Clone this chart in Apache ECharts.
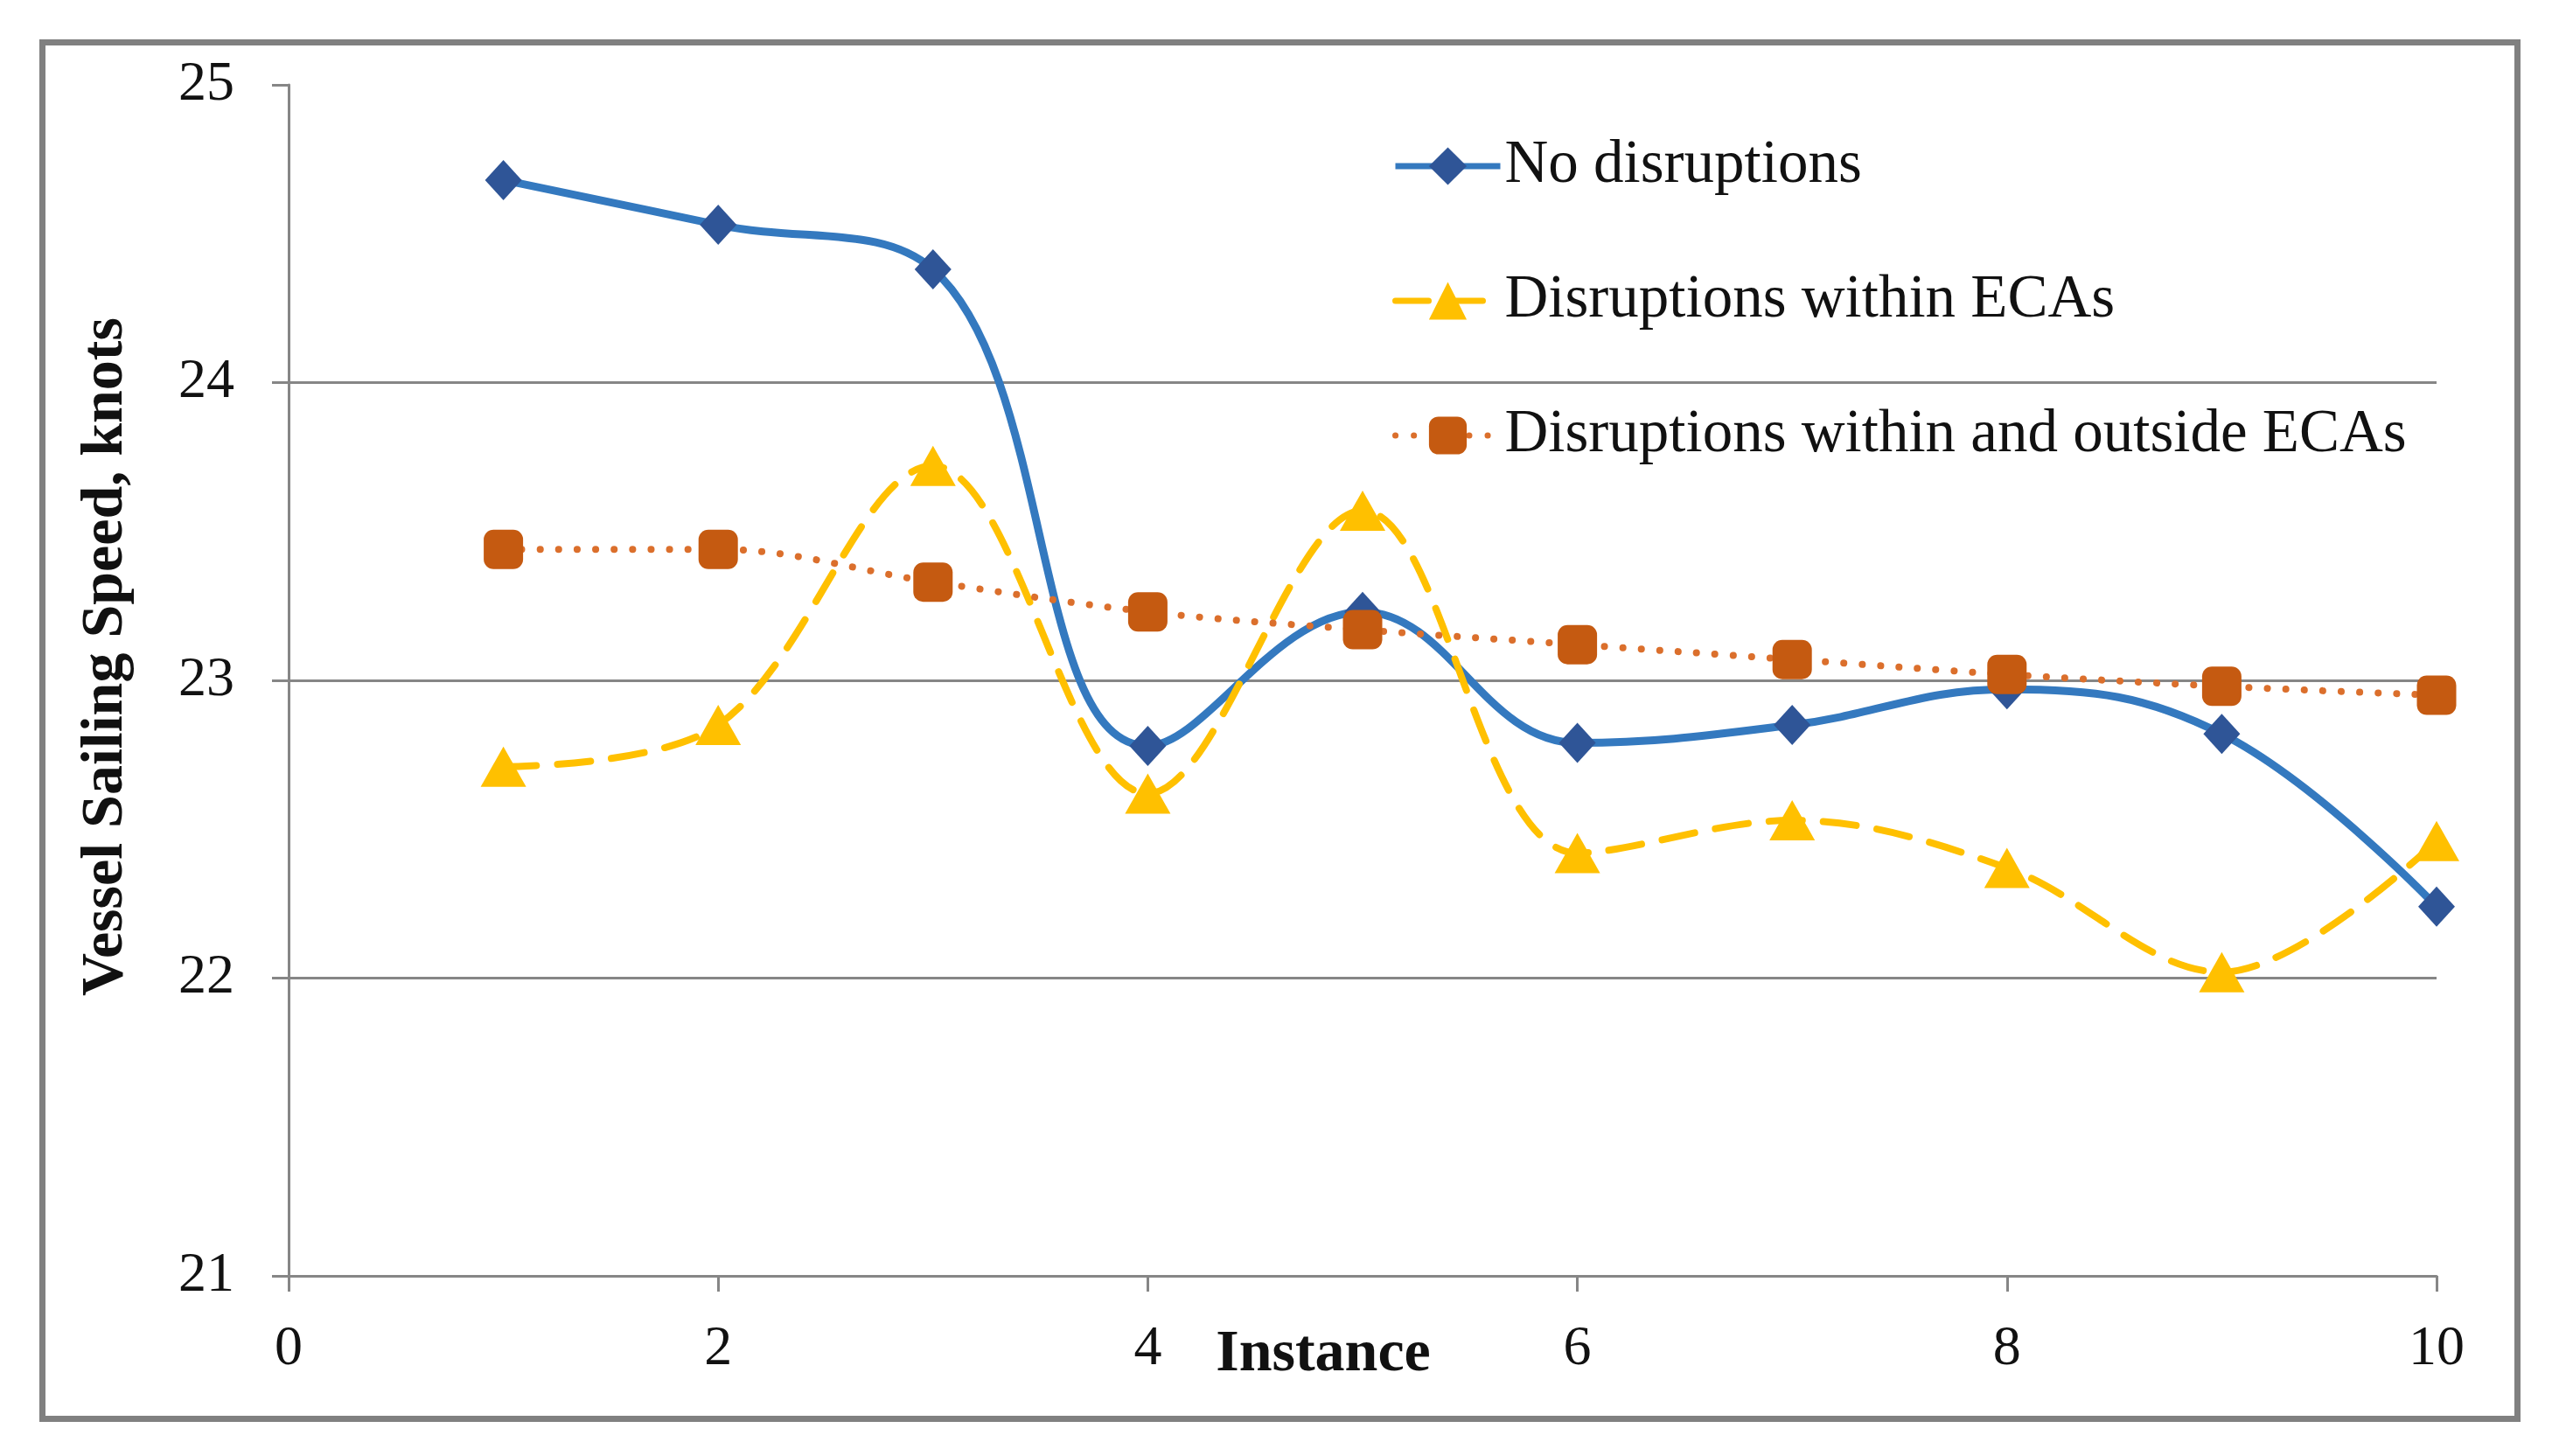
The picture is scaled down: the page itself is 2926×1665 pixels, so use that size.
<!DOCTYPE html>
<html>
<head>
<meta charset="utf-8">
<script src="https://cdn.jsdelivr.net/npm/echarts@6/dist/echarts.min.js"></script>
<style>
html,body{margin:0;padding:0;background:#fff;}
#c{width:2926px;height:1665px;}
</style>
</head>
<body>
<div id="c"></div>
<script>
const instances = [1, 2, 3, 4, 5, 6, 7, 8, 9, 10];
const noDisruptions = [24.68, 24.53, 24.38, 22.78, 23.23, 22.79, 22.85, 22.97, 22.82, 22.24];
const withinECAs = [22.71, 22.85, 23.72, 22.62, 23.57, 22.42, 22.53, 22.37, 22.02, 22.46];
const withinOutsideECAs = [23.44, 23.44, 23.33, 23.23, 23.17, 23.12, 23.07, 23.02, 22.98, 22.95];
const seriesNames = ['No disruptions', 'Disruptions within ECAs', 'Disruptions within and outside ECAs'];
const yTitle = 'Vessel Sailing Speed, knots';
const xTitle = 'Instance';

const pair = (vals) => instances.map((x, i) => [x, vals[i]]);
const FONT = 'Liberation Serif';
const GRAY = '#868686';

const chart = echarts.init(document.getElementById('c'), null, {renderer: 'canvas'});
chart.setOption({
  animation: false,
  backgroundColor: '#fff',
  grid: {left: 330, right: 140, top: 97, bottom: 206, containLabel: false},
  xAxis: {
    type: 'value', min: 0, max: 10, interval: 2,
    axisLine: {show: true, onZero: false, lineStyle: {color: GRAY, width: 3}},
    axisTick: {show: true, length: 18, lineStyle: {color: GRAY, width: 3}},
    axisLabel: {fontFamily: FONT, fontSize: 64, color: '#111', margin: 52},
    splitLine: {show: false}
  },
  yAxis: {
    type: 'value', min: 21, max: 25, interval: 1,
    axisLine: {show: true, lineStyle: {color: GRAY, width: 3}},
    axisTick: {show: true, length: 19, lineStyle: {color: GRAY, width: 3}},
    axisLabel: {fontFamily: FONT, fontSize: 64, color: '#111', margin: 62},
    splitLine: {show: true, showMaxLine: false,
      lineStyle: {color: [GRAY, GRAY, GRAY, GRAY, 'rgba(0,0,0,0)'], width: 3}}
  },
  legend: {
    orient: 'vertical', left: 1587, top: 149,
    itemWidth: 120, itemHeight: 54, itemGap: 82,
    selectedMode: false,
    lineStyle: {width: 7},
    textStyle: {fontFamily: FONT, fontSize: 69, color: '#111', lineHeight: 72},
    data: seriesNames
  },
  graphic: [
    {type: 'rect', z: 100, silent: true,
     shape: {x: 48.5, y: 48.5, width: 2830, height: 1574},
     style: {fill: 'none', stroke: '#808080', lineWidth: 7}},
    {type: 'text', z: 100, silent: true, x: 121, y: 751, rotation: Math.PI / 2,
     style: {text: yTitle, fontFamily: FONT, fontWeight: 'bold', fontSize: 68, fill: '#111',
             align: 'center', verticalAlign: 'middle'}},
    {type: 'text', z: 100, silent: true, x: 1513, y: 1549,
     style: {text: xTitle, fontFamily: FONT, fontWeight: 'bold', fontSize: 68, fill: '#111',
             align: 'center', verticalAlign: 'middle'}}
  ],
  series: [
    {
      name: seriesNames[0], type: 'line', data: pair(noDisruptions), smooth: 0.4,
      symbol: 'diamond', symbolSize: [42, 46],
      lineStyle: {color: '#3479BF', width: 9},
      itemStyle: {color: '#2F5597'}
    },
    {
      name: seriesNames[1], type: 'line', data: pair(withinECAs), smooth: 0.35,
      symbol: 'triangle', symbolSize: [52, 46],
      lineStyle: {color: '#FFC000', width: 8, type: [38, 24], cap: 'round'},
      itemStyle: {color: '#FFC000'}
    },
    {
      name: seriesNames[2], type: 'line', data: pair(withinOutsideECAs), smooth: 0.35,
      symbol: 'roundRect', symbolSize: 45,
      lineStyle: {color: '#DB6F2C', width: 8, type: [0.1, 21], cap: 'round'},
      itemStyle: {color: '#C55A11'}
    }
  ]
});
</script>
</body>
</html>
